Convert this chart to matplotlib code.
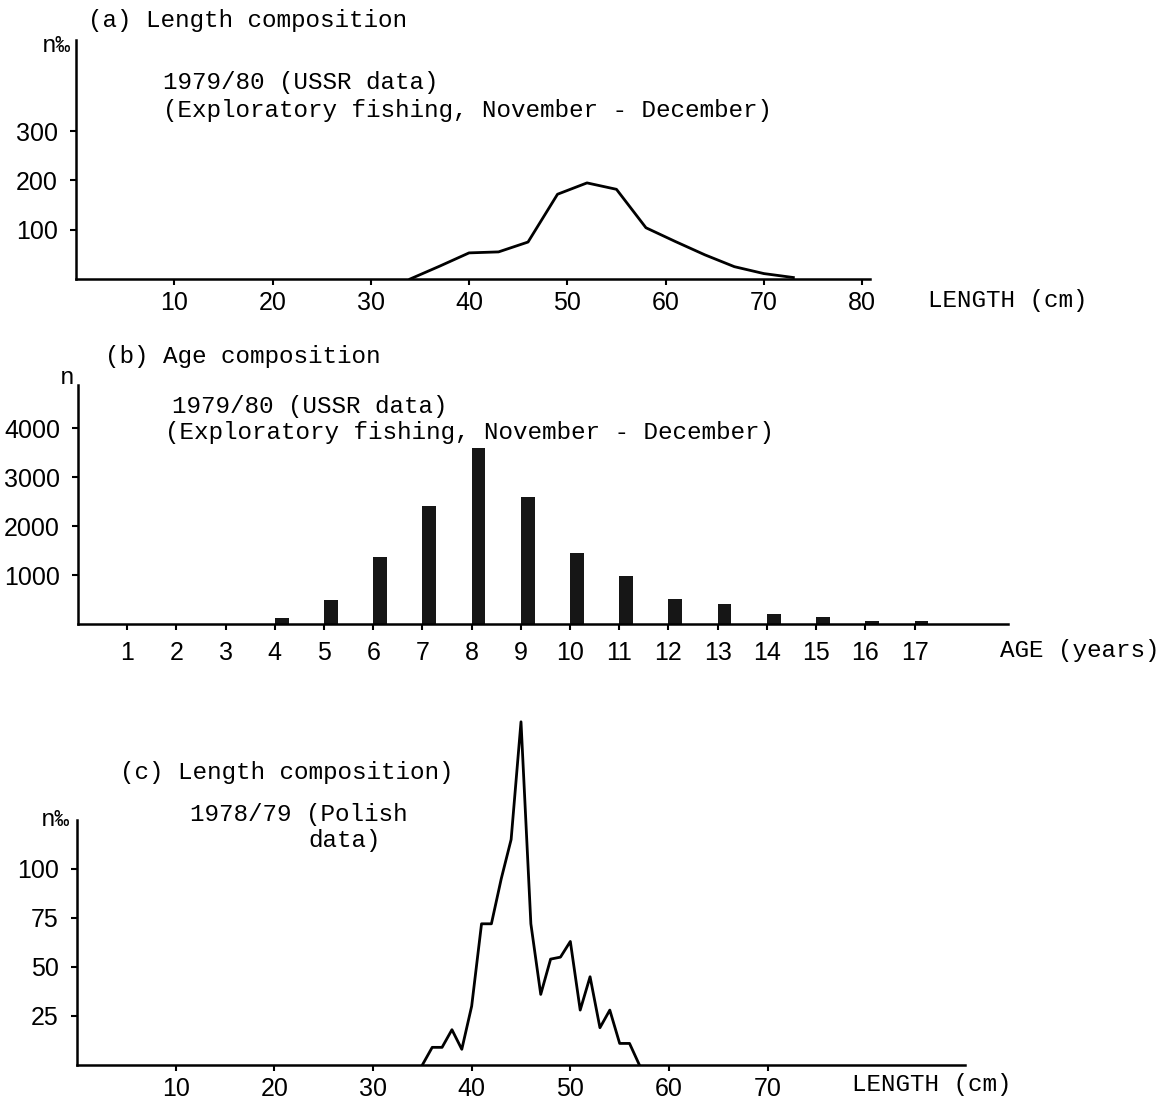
import matplotlib
matplotlib.use("Agg")
import matplotlib.pyplot as plt

# (a) length composition 1979/80, USSR data (per mille, 3 cm classes)
length_a = [34, 37, 40, 43, 46, 49, 52, 55, 58, 61, 64, 67, 70, 73]
permille_a = [0, 26, 53, 55, 75, 172, 195, 182, 104, 76, 49, 25, 11, 3]

# (b) age composition 1979/80, USSR data (numbers)
ages_b = [4, 5, 6, 7, 8, 9, 10, 11, 12, 13, 14, 15, 16, 17]
count_b = [130, 490, 1360, 2400, 3600, 2600, 1450, 980, 520, 400, 200, 140, 60, 60]

# (c) length composition 1978/79, Polish data (per mille, 1 cm classes)
length_c = list(range(35, 58))
permille_c = [0, 9, 9, 18, 8, 30, 72, 72, 95, 115, 175, 72, 36, 54, 55, 63,
              28, 45, 19, 28, 11, 11, 0]

W, H = 1165, 1106
MONO = ["Liberation Mono", "DejaVu Sans Mono"]
SANS = ["Liberation Sans Narrow", "Liberation Sans", "DejaVu Sans"]
TICK = 18


def box(x0, y0, x1, y1):
    return [x0 / W, 1 - y1 / H, (x1 - x0) / W, (y1 - y0) / H]


def label(x, y, s, size=17.5, ha="left"):
    fig.text(x / W, 1 - y / H, s, ha=ha, va="center", fontsize=size,
             family=MONO, color="black")


def style(ax, xpad):
    for side in ["top", "right"]:
        ax.spines[side].set_visible(False)
    for side in ["left", "bottom"]:
        ax.spines[side].set_linewidth(1.8)
    ax.tick_params(direction="out", length=4, width=1.5, pad=9,
                   labelsize=TICK)
    ax.tick_params(axis="x", pad=xpad)
    for t in ax.get_xticklabels() + ax.get_yticklabels():
        t.set_family(SANS)


fig = plt.figure(figsize=(W / 100, H / 100), dpi=100)

# ---- (a)
ax = fig.add_axes(box(76, 40, 870, 279))
ax.plot(length_a, permille_a, color="black", lw=2.0)
ax.set_xlim(0, 80.8)
ax.set_ylim(0, 485)
ax.set_xticks(range(10, 90, 10))
ax.set_yticks([100, 200, 300])
style(ax, 5)
label(88, 20, "(a) Length composition")
label(71, 45, "n‰", ha="right")
label(163, 83, "1979/80 (USSR data)")
label(163, 110, "(Exploratory fishing, November - December)")
label(928, 300, "LENGTH (cm)")

# ---- (b)
ax = fig.add_axes(box(78, 385, 1008, 624))
ax.bar(ages_b, count_b, width=0.28, align="edge", color="#161616")
ax.set_xlim(0, 18.9)
ax.set_ylim(0, 4880)
ax.set_xticks(range(1, 18))
ax.set_yticks([1000, 2000, 3000, 4000])
style(ax, 8)
label(105, 357, "(b) Age composition")
label(60, 378, "n")
label(172, 407, "1979/80 (USSR data)")
label(165, 433, "(Exploratory fishing, November - December)")
label(1000, 651, "AGE (years)")

# ---- (c)
ax = fig.add_axes(box(77, 712, 965, 1065))
ax.plot(length_c, permille_c, color="black", lw=2.0)
ax.set_xlim(0, 90)
ax.set_ylim(0, 180)
ax.spines["left"].set_bounds(0, 125)
ax.set_xticks(range(10, 80, 10))
ax.set_yticks([25, 50, 75, 100])
style(ax, 5)
label(120, 772, "(c) Length composition)")
label(70, 820, "n‰", ha="right")
label(190, 815, "1978/79 (Polish")
label(308, 840, "data)")
label(852, 1085, "LENGTH (cm)")

fig.savefig("out.png", dpi=100, facecolor="white")
